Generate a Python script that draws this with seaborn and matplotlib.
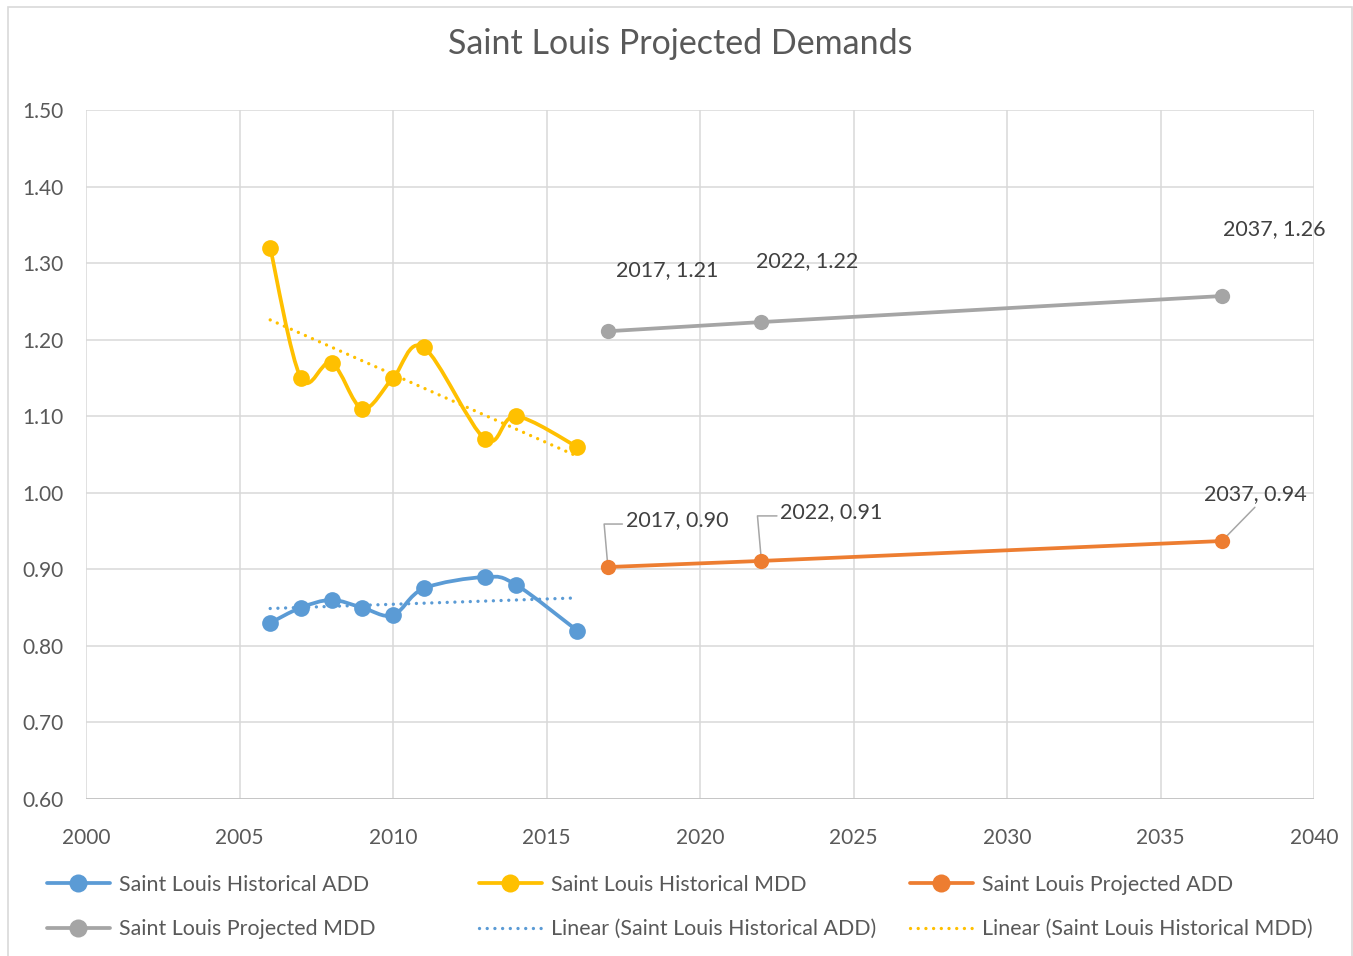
import numpy as np
import pandas as pd
import matplotlib
matplotlib.use("Agg")
import matplotlib.pyplot as plt
from matplotlib.path import Path
from matplotlib.patches import PathPatch, Rectangle
from matplotlib.lines import Line2D
import seaborn as sns

# Data
hist_years = [2006, 2007, 2008, 2009, 2010, 2011, 2013, 2014, 2016]
hist_add = [0.83, 0.85, 0.86, 0.85, 0.84, 0.875, 0.89, 0.88, 0.82]
hist_mdd = [1.32, 1.15, 1.17, 1.11, 1.15, 1.19, 1.07, 1.10, 1.06]

proj_years = [2017, 2022, 2037]
proj_add = [0.903, 0.911, 0.937]
proj_mdd = [1.211, 1.223, 1.257]

x_ticks = [2000, 2005, 2010, 2015, 2020, 2025, 2030, 2035, 2040]
y_ticks = [0.60, 0.70, 0.80, 0.90, 1.00, 1.10, 1.20, 1.30, 1.40, 1.50]

BLUE = "#5B9BD5"
YELLOW = "#FFC000"
ORANGE = "#ED7D31"
GRAY = "#A5A5A5"
TXT = "#595959"
LBL = "#404040"
DOTS = (0, (0.01, 2.3))

sns.set_theme(style="white")
plt.rcParams["font.family"] = ["Lato", "DejaVu Sans"]

fig = plt.figure(figsize=(13.53, 9.56), dpi=100)
ax = fig.add_axes([86 / 1353, 1 - 799 / 956, (1314 - 86) / 1353, (799 - 110) / 956])

# outer chart border
fig.patches.append(Rectangle((8 / 1353, -0.02), 1344 / 1353, 1.02 - 7 / 956,
                             transform=fig.transFigure, fill=False,
                             edgecolor="#d9d9d9", linewidth=1.2))


def smooth_path(xs, ys):
    # Excel-like smoothed line: cubic Bezier segments through the points
    p = np.column_stack([xs, ys]).astype(float)
    n = len(p)
    verts = [p[0]]
    codes = [Path.MOVETO]
    for i in range(n - 1):
        p0 = p[i - 1] if i > 0 else p[i]
        p3 = p[i + 2] if i + 2 < n else p[i + 1]
        c1 = p[i] + (p[i + 1] - p0) / 6
        c2 = p[i + 1] - (p3 - p[i]) / 6
        verts += [c1, c2, p[i + 1]]
        codes += [Path.CURVE4] * 3
    return Path(verts, codes)


# linear trendlines
trend_x = np.array([hist_years[0], hist_years[-1]])
for vals, col in [(hist_add, BLUE), (hist_mdd, YELLOW)]:
    k, b = np.polyfit(hist_years, vals, 1)
    tdf = pd.DataFrame({"x": trend_x, "y": k * trend_x + b})
    sns.lineplot(data=tdf, x="x", y="y", ax=ax, color=col, linewidth=2.4)
    ln = ax.lines[-1]
    ln.set_linestyle(DOTS)
    ln.set_dash_capstyle("round")

# historical smoothed lines with markers
for vals, col in [(hist_add, BLUE), (hist_mdd, YELLOW)]:
    ax.add_patch(PathPatch(smooth_path(hist_years, vals), fill=False,
                           edgecolor=col, linewidth=2.7, zorder=3))
    hdf = pd.DataFrame({"x": hist_years, "y": vals})
    sns.scatterplot(data=hdf, x="x", y="y", ax=ax, color=col, s=145,
                    edgecolor=col, linewidth=0, zorder=4)

# projected lines
for vals, col in [(proj_add, ORANGE), (proj_mdd, GRAY)]:
    pdf = pd.DataFrame({"x": proj_years, "y": vals})
    sns.lineplot(data=pdf, x="x", y="y", ax=ax, color=col, linewidth=2.7,
                 marker="o", markersize=11, markeredgewidth=0, zorder=4)

# data labels
mdd_off = [(59, 61), (46, 61), (52, 67)]
for xv, yv, off in zip(proj_years, proj_mdd, mdd_off):
    ax.annotate(f"{xv}, {yv:.2f}", (xv, yv), xytext=off, textcoords="offset pixels",
                ha="center", va="center", fontsize=15.5, color=LBL)

add_off = [(69, 47), (70, 49), (33, 47)]
add_conn = ["angle,angleA=180,angleB=95,rad=0", "angle,angleA=180,angleB=95,rad=0",
            "arc3,rad=0"]
add_rel = [(0, 0.3), (0, 0.3), (0.55, 0.1)]
for xv, yv, off, cs, rp in zip(proj_years, proj_add, add_off, add_conn, add_rel):
    ax.annotate(f"{xv}, {yv:.2f}", (xv, yv), xytext=off, textcoords="offset pixels",
                ha="center", va="center", fontsize=15.5, color=LBL,
                arrowprops=dict(arrowstyle="-", color="#a6a6a6", lw=1.1,
                                connectionstyle=cs, relpos=rp,
                                shrinkA=0, shrinkB=2))

ax.set_xlim(2000, 2040)
ax.set_ylim(0.60, 1.50)
ax.set_xticks(x_ticks)
ax.set_yticks(y_ticks)
ax.set_yticklabels([f"{v:.2f}" for v in y_ticks])
ax.set_xlabel("")
ax.set_ylabel("")
ax.grid(True, color="#d9d9d9", linewidth=1.1)
ax.set_axisbelow(True)
for s in ax.spines.values():
    s.set_visible(False)
ax.axhline(0.60, color="#bfbfbf", linewidth=1.1, zorder=1)
ax.tick_params(axis="both", length=0, labelsize=15, labelcolor=TXT)
ax.tick_params(axis="y", pad=16)
ax.tick_params(axis="x", pad=21)

fig.text(680 / 1353, 1 - 44 / 956, "Saint Louis Projected Demands",
         ha="center", va="center", fontsize=24.5, color=TXT)

# legend: three columns of two rows
def mk(col, style="-", marker="o"):
    h = Line2D([], [], color=col, linewidth=2.7, marker=marker, markersize=13,
               markeredgewidth=0)
    if style != "-":
        h.set_linestyle(DOTS)
        h.set_dash_capstyle("round")
        h.set_linewidth(2.4)
    return h

cols = [
    [(mk(BLUE), "Saint Louis Historical ADD"), (mk(GRAY), "Saint Louis Projected MDD")],
    [(mk(YELLOW), "Saint Louis Historical MDD"),
     (mk(BLUE, ":", None), "Linear (Saint Louis Historical ADD)")],
    [(mk(ORANGE), "Saint Louis Projected ADD"),
     (mk(YELLOW, ":", None), "Linear (Saint Louis Historical MDD)")],
]
col_x = [38, 470, 901]
for cx, entries in zip(col_x, cols):
    leg = fig.legend([e[0] for e in entries], [e[1] for e in entries],
                     loc="upper left", bbox_to_anchor=(cx / 1353, 1 - 866 / 956),
                     frameon=False, fontsize=15.4, handlelength=2.95,
                     handletextpad=0.45, labelspacing=1.15, borderaxespad=0)
    for t in leg.get_texts():
        t.set_color(TXT)

fig.savefig("out.png", dpi=100)
